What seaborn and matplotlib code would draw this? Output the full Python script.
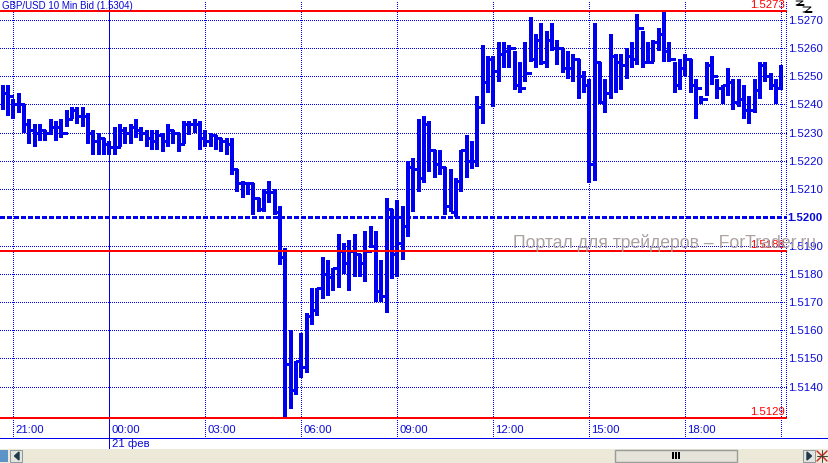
import matplotlib
matplotlib.use("Agg")
import matplotlib.pyplot as plt
from matplotlib.patches import Rectangle
from matplotlib.transforms import ScaledTranslation
import numpy as np
import pandas as pd
import seaborn as sns

# 10 min bars, 0 = 21:00 on the day before
bars = np.arange(-2, 145)

highs = [1.5247,1.5247,1.5242,1.5244,1.5240,1.5235,1.5233,1.5233,1.5231,1.5235,
         1.5234,1.5235,1.5238,1.5239,1.5239,1.5239,1.5237,1.5231,1.5230,1.5228,
         1.5227,1.5232,1.5233,1.5232,1.5233,1.5235,1.5232,1.5231,1.5231,1.5231,
         1.5230,1.5233,1.5231,1.5230,1.5234,1.5234,1.5235,1.5234,1.5231,1.5230,
         1.5229,1.5228,1.5228,1.5228,1.5217,1.5213,1.5212,1.5212,1.5207,1.5210,
         1.5213,1.5210,1.5204,1.5189,1.5160,1.5149,1.5159,1.5166,1.5175,1.5175,
         1.5186,1.5185,1.5182,1.5194,1.5191,1.5192,1.5194,1.5187,1.5195,1.5197,
         1.5195,1.5185,1.5207,1.5203,1.5206,1.5204,1.5220,1.5221,1.5235,1.5236,
         1.5234,1.5224,1.5224,1.5218,1.5217,1.5214,1.5224,1.5229,1.5227,1.5243,
         1.5261,1.5257,1.5257,1.5262,1.5262,1.5261,1.5259,1.5255,1.5262,1.5271,
         1.5265,1.5269,1.5266,1.5269,1.5263,1.5260,1.5259,1.5258,1.5256,1.5252,
         1.5249,1.5269,1.5255,1.5249,1.5265,1.5258,1.5258,1.5260,1.5262,1.5272,
         1.5266,1.5262,1.5263,1.5267,1.5273,1.5262,1.5255,1.5256,1.5258,1.5256,
         1.5249,1.5243,1.5255,1.5257,1.5249,1.5247,1.5253,1.5249,1.5249,1.5247,
         1.5243,1.5249,1.5255,1.5255,1.5251,1.5249,1.5254]

lows = [1.5238,1.5236,1.5235,1.5237,1.5230,1.5226,1.5225,1.5227,1.5227,1.5229,
        1.5227,1.5228,1.5232,1.5235,1.5233,1.5232,1.5226,1.5222,1.5222,1.5222,
        1.5222,1.5222,1.5225,1.5226,1.5226,1.5228,1.5227,1.5225,1.5224,1.5224,
        1.5223,1.5225,1.5226,1.5223,1.5226,1.5229,1.5230,1.5224,1.5225,1.5225,
        1.5224,1.5223,1.5222,1.5215,1.5209,1.5207,1.5208,1.5201,1.5202,1.5202,
        1.5205,1.5201,1.5183,1.5129,1.5132,1.5137,1.5143,1.5145,1.5162,1.5165,
        1.5171,1.5172,1.5174,1.5175,1.5180,1.5174,1.5179,1.5179,1.5177,1.5189,
        1.5170,1.5170,1.5166,1.5178,1.5179,1.5185,1.5193,1.5202,1.5209,1.5212,
        1.5216,1.5214,1.5215,1.5201,1.5202,1.5200,1.5209,1.5214,1.5217,1.5218,
        1.5233,1.5244,1.5239,1.5248,1.5253,1.5253,1.5245,1.5244,1.5248,1.5255,
        1.5253,1.5254,1.5253,1.5259,1.5254,1.5251,1.5249,1.5248,1.5242,1.5244,
        1.5212,1.5213,1.5240,1.5237,1.5242,1.5244,1.5245,1.5249,1.5253,1.5254,
        1.5253,1.5255,1.5255,1.5259,1.5255,1.5255,1.5244,1.5245,1.5250,1.5244,
        1.5235,1.5240,1.5243,1.5247,1.5242,1.5240,1.5243,1.5238,1.5239,1.5235,
        1.5233,1.5237,1.5242,1.5248,1.5245,1.5240,1.5245]

closes = [1.5244,1.5243,1.5240,1.5240,1.5233,1.5231,1.5230,1.5231,1.5230,1.5232,
          1.5232,1.5230,1.5235,1.5238,1.5236,1.5236,1.5230,1.5227,1.5228,1.5226,
          1.5225,1.5225,1.5231,1.5230,1.5232,1.5231,1.5230,1.5228,1.5227,1.5229,
          1.5227,1.5231,1.5230,1.5226,1.5233,1.5233,1.5233,1.5228,1.5227,1.5229,
          1.5228,1.5227,1.5226,1.5217,1.5212,1.5212,1.5212,1.5207,1.5203,1.5209,
          1.5209,1.5202,1.5186,1.5148,1.5139,1.5149,1.5147,1.5165,1.5167,1.5175,
          1.5180,1.5179,1.5182,1.5188,1.5184,1.5188,1.5187,1.5184,1.5188,1.5190,
          1.5174,1.5172,1.5203,1.5187,1.5191,1.5197,1.5218,1.5217,1.5214,1.5233,
          1.5224,1.5219,1.5218,1.5204,1.5202,1.5213,1.5224,1.5220,1.5220,1.5239,
          1.5248,1.5256,1.5252,1.5258,1.5259,1.5260,1.5247,1.5246,1.5251,1.5256,
          1.5263,1.5255,1.5263,1.5260,1.5260,1.5253,1.5253,1.5256,1.5250,1.5247,
          1.5219,1.5255,1.5241,1.5244,1.5257,1.5255,1.5254,1.5257,1.5256,1.5267,
          1.5255,1.5255,1.5262,1.5265,1.5259,1.5256,1.5247,1.5253,1.5256,1.5247,
          1.5246,1.5242,1.5254,1.5250,1.5246,1.5247,1.5248,1.5241,1.5242,1.5238,
          1.5238,1.5245,1.5254,1.5250,1.5247,1.5246,1.5253]

time_ticks = [0, 18, 36, 54, 72, 90, 108, 126, 144]
time_labels = ['21:00', '00:00', '03:00', '06:00', '09:00', '12:00', '15:00', '18:00', '']
price_ticks = [1.5140, 1.5150, 1.5160, 1.5170, 1.5180, 1.5190, 1.5200,
               1.5210, 1.5220, 1.5230, 1.5240, 1.5250, 1.5260, 1.5270]
red_levels = [1.5273, 1.5188, 1.5129]

BLUE = '#0000F0'
TEXT_BLUE = '#0A0AD8'
W, H = 829, 463

sns.set_theme(style='white')
plt.rcParams['font.family'] = ['Liberation Sans', 'DejaVu Sans']
px = 72 / 100  # one pixel in points

fig = plt.figure(figsize=(W / 100, H / 100), dpi=100, facecolor='white')
ax = fig.add_axes([0, 1 - 437.5 / H, 787 / W, 437.5 / H])
ax.set_xlim(-2.494, 145.07)
ax.set_ylim(1.5122, 1.5277)

# high-low bars
hl = pd.DataFrame({'bar': np.tile(bars, 2), 'price': highs + lows})
sns.lineplot(data=hl, x='bar', y='price', units='bar', estimator=None, sort=False,
             color=BLUE, lw=3.6 * px, solid_capstyle='butt', antialiased=False,
             legend=False, ax=ax, zorder=4)

# close ticks run across to the next bar, where they are its open
ct = pd.DataFrame({'bar': np.tile(bars, 2),
                   'x': np.r_[bars, bars + 1.0],
                   'price': closes + closes})
ct = ct[ct['x'] <= 144.6]
sns.lineplot(data=ct, x='x', y='price', units='bar', estimator=None, sort=False,
             color=BLUE, lw=3 * px, solid_capstyle='butt', antialiased=False,
             legend=False, ax=ax, zorder=4)

ax.set_xlabel('')
ax.set_ylabel('')
for s in ax.spines.values():
    s.set_visible(False)

ax.set_xticks(time_ticks, time_labels)
ax.set_yticks(price_ticks, ['%.4f' % p for p in price_ticks])
ax.yaxis.tick_right()
ax.grid(True, color=BLUE, lw=px, ls=(0, (1, 2)), antialiased=False)
ax.set_axisbelow(True)
ax.tick_params(axis='x', length=0, pad=-9, labelsize=8.2, labelcolor=TEXT_BLUE)
ax.tick_params(axis='y', length=0, pad=0.5, labelsize=8.2, labelcolor=TEXT_BLUE)
shift = ScaledTranslation(2 / 100, 0, fig.dpi_scale_trans)
for lab in ax.get_xticklabels():
    lab.set_ha('left')
    lab.set_transform(lab.get_transform() + shift)
for lab, p in zip(ax.get_yticklabels(), price_ticks):
    if p == 1.5200:
        lab.set_fontweight('bold')
# the 1.5200 level has its own dashed line, its gaps stay white
ax.yaxis.get_gridlines()[price_ticks.index(1.5200)].set_visible(False)

# dashed 1.5200 level, red levels, right edge of the plot
ax.axhline(1.5200, color=BLUE, lw=3 * px, ls=(0, (1.4, 0.8)), antialiased=False, zorder=3)
ax.axvline(144.85, ymin=(1.5129 - 1.5122) / 0.0155, color=BLUE, lw=px, ls=(0, (1, 2)),
           antialiased=False)
ax.axvline(18, ymin=-0.03, color=BLUE, lw=px, clip_on=False, antialiased=False, zorder=2)
for lev in red_levels:
    ax.axhline(lev, color='#FF0000', lw=2 * px, antialiased=False, zorder=5)
    ax.annotate('%.4f' % lev, (144.6, lev), xytext=(0, 1), textcoords='offset pixels',
                ha='right', va='bottom', fontsize=8.2, color='#FF0000', zorder=6)

ax.text(2 / 787, 1 - 6 / 437.5, 'GBP/USD 10 Min Bid (1.5304)', transform=ax.transAxes,
        ha='left', va='center', fontsize=7, color=TEXT_BLUE, zorder=6)

# window furniture drawn in pixel coordinates
ov = fig.add_axes([0, 0, 1, 1], zorder=10)
ov.set_xlim(0, W)
ov.set_ylim(H, 0)
ov.axis('off')
ov.patch.set_alpha(0)
ov.plot([0, W], [437.7, 437.7], color=BLUE, lw=px, antialiased=False)
ov.text(112, 444, '21 фев', fontsize=8.2, color=TEXT_BLUE, ha='left', va='center')
ov.text(513, 243, 'Портал для трейдеров – ForTrader.ru', fontsize=12.7, color='#A89C9C',
        alpha=0.95, ha='left', va='center')

ov.add_patch(Rectangle((0, 449), W, 14, fc='#ECE9D8', ec='none'))
ov.add_patch(Rectangle((0, 450), 8, 12, fc='#5C94C8', ec='none'))
ov.add_patch(Rectangle((10, 450), 12, 12, fc='#E4E4DC', ec='#8A9AA0', lw=px))
ov.fill([14.5, 19, 19], [456, 452, 460], color='#1E3A4A')
ov.add_patch(Rectangle((615, 449.5), 122.5, 12.5, fc='#E6E4DA', ec='#9A9C98', lw=1.4 * px))
for x0 in [672, 675, 678]:
    ov.add_patch(Rectangle((x0, 452), 2, 7, fc='black', ec='none'))
ov.add_patch(Rectangle((803, 450), 12, 12, fc='#E4E4DC', ec='#8A9AA0', lw=px))
ov.fill([807, 807, 811.5], [452, 460, 456], color='#1E3A4A')
ov.plot([817, 827], [451, 461], color='#D02020', lw=1.4 * px)
ov.plot([817, 827], [461, 451], color='#D02020', lw=1.4 * px)
ov.plot([822, 822], [450, 462], color='#3A4A30', lw=px)
ov.plot([817, 827], [456, 456], color='#3A4A30', lw=px)

# cursor icon next to the price scale
ov.plot([796, 803, 797, 804, 796], [1, 1, 5, 5, 5], color='black', lw=px)
ov.plot([803, 811, 805, 812, 803], [7, 7, 12, 12, 12], color='black', lw=px)

fig.savefig('out.png', dpi=100)
